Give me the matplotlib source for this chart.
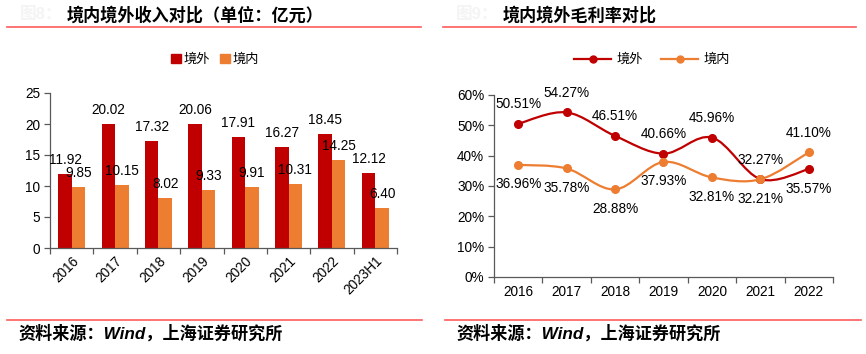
import matplotlib
matplotlib.use('Agg')
import matplotlib.pyplot as plt
from matplotlib.path import Path
from matplotlib.patches import PathPatch, Patch
from matplotlib.lines import Line2D

plt.rcParams['font.family'] = ['Liberation Sans', 'Noto Sans CJK SC']
plt.rcParams['axes.unicode_minus'] = False

# 数据
bar_years = ['2016', '2017', '2018', '2019', '2020', '2021', '2022', '2023H1']
rev_overseas = [11.92, 20.02, 17.32, 20.06, 17.91, 16.27, 18.45, 12.12]
rev_domestic = [9.85, 10.15, 8.02, 9.33, 9.91, 10.31, 14.25, 6.40]

line_years = ['2016', '2017', '2018', '2019', '2020', '2021', '2022']
gm_overseas = [50.51, 54.27, 46.51, 40.66, 45.96, 32.27, 35.57]
gm_domestic = [36.96, 35.78, 28.88, 37.93, 32.81, 32.21, 41.10]

RED = '#C00000'
ORANGE = '#ED7D31'
RULE = '#FF5B5B'
AXC = '#595959'
LBL = 9.8

W, H = 866, 354
fig = plt.figure(figsize=(W / 100, H / 100), dpi=100)


def fx(px):
    return px / W


def fy(py):
    return 1 - py / H


def smooth_path(xs, ys):
    # excel-like smoothed line, bezier control points from neighbours
    n = len(xs)
    verts = [(xs[0], ys[0])]
    codes = [Path.MOVETO]
    for i in range(n - 1):
        x0, y0 = (xs[i - 1], ys[i - 1]) if i > 0 else (xs[i], ys[i])
        x3, y3 = (xs[i + 2], ys[i + 2]) if i + 2 < n else (xs[i + 1], ys[i + 1])
        c1 = (xs[i] + (xs[i + 1] - x0) / 6, ys[i] + (ys[i + 1] - y0) / 6)
        c2 = (xs[i + 1] - (x3 - xs[i]) / 6, ys[i + 1] - (y3 - ys[i]) / 6)
        verts += [c1, c2, (xs[i + 1], ys[i + 1])]
        codes += [Path.CURVE4] * 3
    return Path(verts, codes)


def style_axes(ax, ncat):
    for s in ['top', 'right']:
        ax.spines[s].set_visible(False)
    for s in ['left', 'bottom']:
        ax.spines[s].set_color(AXC)
        ax.spines[s].set_linewidth(0.9)
    ax.set_xlim(-0.5, ncat - 0.5)
    ax.set_xticks(range(ncat))
    ax.set_xticks([i - 0.5 for i in range(ncat + 1)], minor=True)
    ax.tick_params(axis='x', which='major', length=0, labelsize=9.8, pad=6)
    ax.tick_params(axis='x', which='minor', length=4, color=AXC, width=0.9)
    ax.tick_params(axis='y', length=4, color=AXC, width=0.9, labelsize=9.8, pad=3)


# ---------------- 左图：收入 ----------------
ax1 = fig.add_axes([fx(50), fy(248), fx(397 - 50), (248 - 93) / H])
style_axes(ax1, len(bar_years))
xs = list(range(len(bar_years)))
bw = 0.31
ax1.bar([x - bw / 2 for x in xs], rev_overseas, width=bw, color=RED, label='境外')
ax1.bar([x + bw / 2 for x in xs], rev_domestic, width=bw, color=ORANGE, label='境内')
ax1.set_ylim(0, 25)
ax1.set_yticks([0, 5, 10, 15, 20, 25])
ax1.set_xticklabels(bar_years, rotation=45, ha='right', rotation_mode='anchor')
ax1.tick_params(axis='x', which='major', pad=4)
for x, v in zip(xs, rev_overseas):
    ax1.annotate(f'{v:.2f}', (x - bw / 2, v), xytext=(0, 10), textcoords='offset points',
                 ha='center', va='center', fontsize=LBL)
for x, v in zip(xs, rev_domestic):
    ax1.annotate(f'{v:.2f}', (x + bw / 2, v), xytext=(0, 10), textcoords='offset points',
                 ha='center', va='center', fontsize=LBL)

fig.legend(handles=[Patch(color=RED, label='境外'), Patch(color=ORANGE, label='境内')],
           loc='center', bbox_to_anchor=(fx(215), fy(60)), ncol=2, frameon=False,
           fontsize=9.5, handlelength=0.7, handleheight=0.7, handletextpad=0.2,
           columnspacing=0.8)

# ---------------- 右图：毛利率 ----------------
ax2 = fig.add_axes([fx(494), fy(277), fx(833 - 494), (277 - 95) / H])
style_axes(ax2, len(line_years))
lx = list(range(len(line_years)))
ax2.set_ylim(0, 60)
ax2.set_yticks(range(0, 61, 10))
ax2.set_yticklabels([f'{t}%' for t in range(0, 61, 10)])
ax2.set_xticklabels(line_years)

for vals, col in [(gm_overseas, RED), (gm_domestic, ORANGE)]:
    ax2.add_patch(PathPatch(smooth_path(lx, vals), fill=False, edgecolor=col, lw=1.6))
    ax2.plot(lx, vals, 'o', color=col, ms=5.5, zorder=3)

for i, (a, b) in enumerate(zip(gm_overseas, gm_domestic)):
    last = i == len(lx) - 1
    ax2.annotate(f'{a:.2f}%', (i, a), xytext=(0, -14 if last else 14), textcoords='offset points',
                 ha='center', va='center', fontsize=LBL)
    ax2.annotate(f'{b:.2f}%', (i, b), xytext=(0, 14 if last else -14), textcoords='offset points',
                 ha='center', va='center', fontsize=LBL)

fig.legend(handles=[Line2D([], [], color=RED, marker='o', ms=5, lw=1.6, label='境外'),
                    Line2D([], [], color=ORANGE, marker='o', ms=5, lw=1.6, label='境内')],
           loc='center', bbox_to_anchor=(fx(652), fy(60)), ncol=2, frameon=False,
           fontsize=9.5, handlelength=2.8, handletextpad=0.4, columnspacing=1.4)

# ---------------- 标题与来源 ----------------
fig.text(fx(20), fy(15), '图8：', fontsize=12, color='#F4F4F4', va='center', fontweight='bold')
fig.text(fx(67), fy(15), '境内境外收入对比（单位：亿元）', fontsize=12.3, va='center', fontweight='bold')
fig.text(fx(456), fy(15), '图9：', fontsize=12, color='#F4F4F4', va='center', fontweight='bold')
fig.text(fx(503), fy(15), '境内境外毛利率对比', fontsize=12.3, va='center', fontweight='bold')

for x0, x1 in [(7, 421), (443, 856)]:
    fig.add_artist(Line2D([fx(x0), fx(x1)], [fy(27), fy(27)], color=RULE, lw=1.2))
for x0, x1 in [(7, 422), (445, 861)]:
    fig.add_artist(Line2D([fx(x0), fx(x1)], [fy(320), fy(320)], color=RULE, lw=1.2))

fig.text(fx(18), fy(333), '资料来源：Wind，上海证券研究所', fontsize=12.3, va='center',
         fontweight='bold', style='italic')
fig.text(fx(456), fy(333), '资料来源：Wind，上海证券研究所', fontsize=12.3, va='center',
         fontweight='bold', style='italic')

fig.savefig('out.png', dpi=100)
